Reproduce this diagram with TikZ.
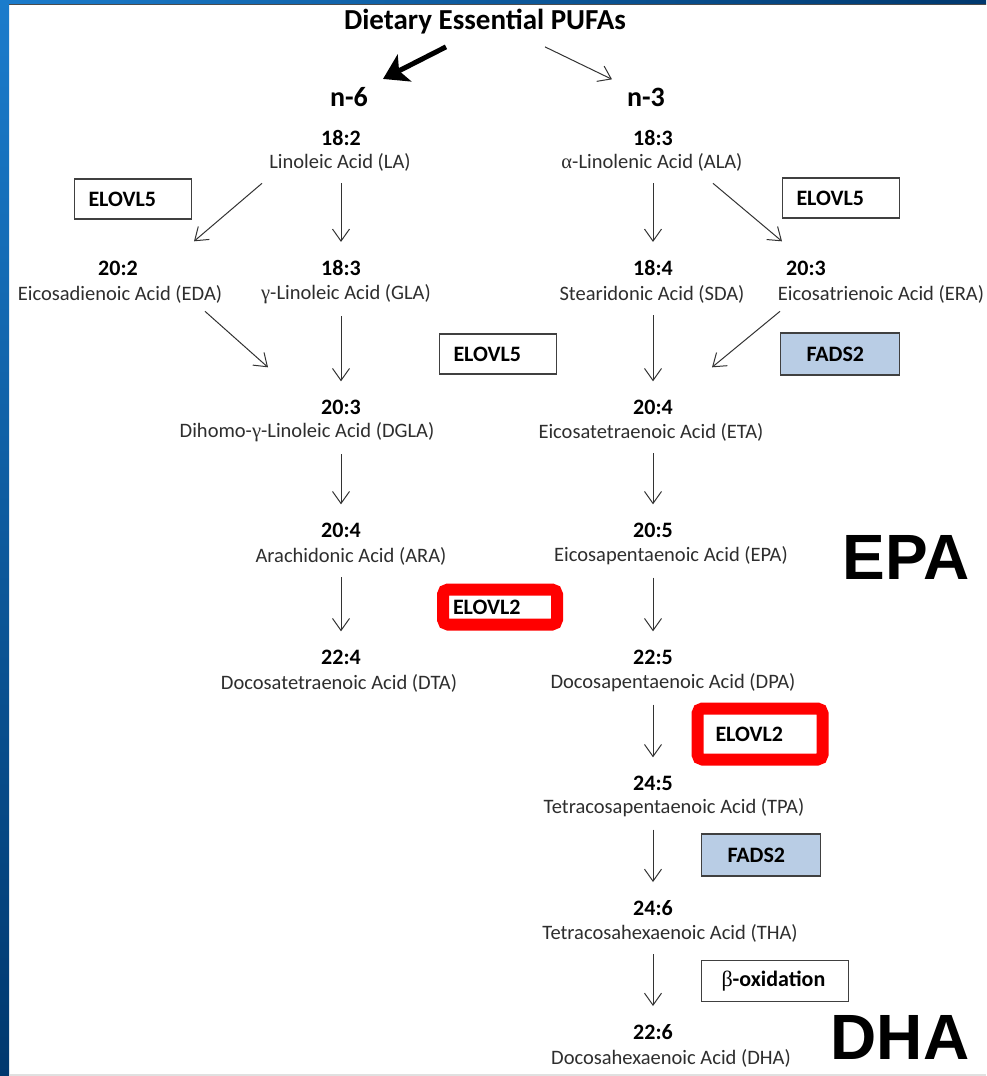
\documentclass[tikz,border=0pt]{standalone}
\usepackage{fontspec}
\setmainfont{Carlito}
\newfontfamily\bigsans{Liberation Sans}
\newfontfamily\greekfont{Liberation Serif}
\usetikzlibrary{arrows.meta,calc}
\definecolor{EnzBlue}{HTML}{B9CDE5}
\definecolor{EdgeGray}{HTML}{404040}
\definecolor{FrameBlue}{HTML}{1B7CCC}
\definecolor{FrameNavy}{HTML}{00386E}

\begin{document}
\begin{tikzpicture}[x=0.5pt,y=-0.5pt,
  acid/.style={inner sep=0pt,text=black!82,font=\fontsize{10.25}{12}\selectfont},
  num/.style={inner sep=0pt,font=\bfseries\fontsize{11}{13}\selectfont},
  enz/.style={draw=EdgeGray,line width=.6pt,minimum height=20pt,align=left,font=\bfseries\fontsize{11}{13}\selectfont},
  hot/.style={draw=red,line width=6pt,rounded corners=2.5pt,fill=white,align=left,font=\bfseries\fontsize{11}{13}\selectfont},
  arr/.style={draw=black!80,line width=.5pt,-{Straight Barb[length=6pt,width=8.5pt]}},
  vstep/.style={arr,shorten <=6pt,shorten >=9pt},
  big/.style={font=\bigsans\bfseries\fontsize{32}{36}\selectfont}]
% frame
\useasboundingbox (0,0) rectangle (986,1076);
\fill[white] (0,0) rectangle (986,1076);
\shade[top color=FrameBlue,bottom color=FrameNavy] (0,0) rectangle (9,1076);
\shade[left color=FrameBlue,right color=FrameNavy] (0,0) rectangle (986,4);
\fill[black!70] (9,4) rectangle (986,5);
\fill[black!12] (9,1074) rectangle (986,1076);

% title and the two families
\node[inner sep=0pt,font=\bfseries\fontsize{14.5}{16}\selectfont] (title) at (485,22) {Dietary Essential PUFAs};
\node[num,font=\bfseries\fontsize{14}{16}\selectfont] (n6) at (349,97) {n-6};
\node[num,font=\bfseries\fontsize{14}{16}\selectfont] (n3) at (646,97) {n-3};
\draw[line width=2.5pt,-{Stealth[length=12pt,width=15pt,inset=3pt]}] ($(title.south)+(-39,12)$) -- ($(n6.north)+(34,-8)$);
\draw[arr] ($(title.south)+(60,12)$) -- ($(n3.north)+(-34,-8)$);

% n-6 side
\node[num] (la) at (341,138) {18:2};
\node[acid] (laT) at (340,162) {Linoleic Acid (LA)};
\node[num] (eda) at (118,268) {20:2};
\node[acid] (edaT) at (120,294) {Eicosadienoic Acid (EDA)};
\node[num] (gla) at (341,268) {18:3};
\node[acid] (glaT) at (346,294) {{\greekfont γ}-Linoleic Acid (GLA)};
\node[num] (dgla) at (341,407) {20:3};
\node[acid] (dglaT) at (307,432) {Dihomo-{\greekfont γ}-Linoleic Acid (DGLA)};
\node[num] (ara) at (341,530) {20:4};
\node[acid] (araT) at (351,556) {Arachidonic Acid (ARA)};
\node[num] (dta) at (341,657) {22:4};
\node[acid] (dtaT) at (339,683) {Docosatetraenoic Acid (DTA)};

% n-3 side
\node[num] (ala) at (653,138) {18:3};
\node[acid] (alaT) at (652,162) {{\greekfont α}-Linolenic Acid (ALA)};
\node[num] (sda) at (653,268) {18:4};
\node[acid] (sdaT) at (652,294) {Stearidonic Acid (SDA)};
\node[num] (era) at (806,268) {20:3};
\node[acid] (eraT) at (881,294) {Eicosatrienoic Acid (ERA)};
\node[num] (eta) at (653,407) {20:4};
\node[acid] (etaT) at (651,432) {Eicosatetraenoic Acid (ETA)};
\node[num] (epa) at (653,530) {20:5};
\node[acid] (epaT) at (671,556) {Eicosapentaenoic Acid (EPA)};
\node[num] (dpa) at (653,657) {22:5};
\node[acid] (dpaT) at (673,683) {Docosapentaenoic Acid (DPA)};
\node[num] (tpa) at (653,783) {24:5};
\node[acid] (tpaT) at (674,808) {Tetracosapentaenoic Acid (TPA)};
\node[num] (tha) at (653,908) {24:6};
\node[acid] (thaT) at (670,933) {Tetracosahexaenoic Acid (THA)};
\node[num] (dha) at (653,1032) {22:6};
\node[acid] (dhaT) at (671,1058) {Docosahexaenoic Acid (DHA)};

% enzymes
\node[enz,text width=44.5pt,inner xsep=7pt] (elo5a) at (133,199) {ELOVL5};
\node[enz,text width=44.5pt,inner xsep=7pt] (elo5b) at (841,198) {ELOVL5};
\node[enz,text width=44.5pt,inner xsep=7pt] (elo5c) at (498,354) {ELOVL5};
\node[enz,fill=EnzBlue,text width=33.5pt,inner xsep=13pt,minimum height=21pt] (fads2a) at (840,354) {FADS2};
\node[enz,fill=EnzBlue,text width=33.5pt,inner xsep=13pt,minimum height=21pt] (fads2b) at (761,855) {FADS2};
\node[enz,text width=53.5pt,inner xsep=10pt,minimum height=20.5pt] (betaox) at (775,981) {{\greekfont\mdseries β}-oxidation};
\node[hot,text width=47pt,inner xsep=5pt,minimum height=17.5pt] (elo2a) at (500,607) {ELOVL2};
\node[hot,text width=44.5pt,inner xsep=9pt,minimum height=25.5pt] (elo2b) at (760,734) {ELOVL2};

\node[big] (epabig) at (906,557) {EPA};
\node[big] (dhabig) at (900,1037) {DHA};

% steps
\draw[arr] ($(laT.south)+(-78,12)$) -- ($(eda.north)+(76,-19)$);
\draw[arr] ($(alaT.south)+(61,12)$) -- ($(era.north)+(-24,-19)$);
\draw[arr] ($(edaT.south)+(85,8)$) -- ($(dgla.north)+(-73,-32)$);
\draw[arr] ($(eraT.south)+(-101,8)$) -- ($(eta.north)+(59,-32)$);
\foreach \p/\q in {laT/gla,glaT/dgla,dglaT/ara,araT/dta,alaT/sda,sdaT/eta,etaT/epa,epaT/dpa,dpaT/tpa,tpaT/tha,thaT/dha}{\draw[vstep] (\p.south -| \q) -- (\q.north);}
\end{tikzpicture}
\end{document}
